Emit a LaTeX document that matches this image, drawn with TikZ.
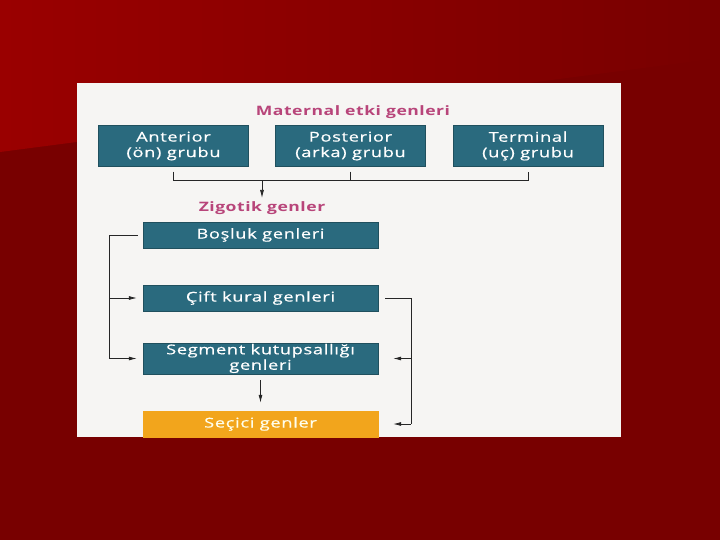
\documentclass[tikz,border=0pt]{standalone}
\usepackage{fontspec}
\usepackage{tikz}
\usepackage{xcolor}
\usetikzlibrary{arrows.meta,calc}
\newfontfamily\diagfont[FakeStretch=1.35,LetterSpace=5,FakeBold=0.6]{Open Sans}
\newfontfamily\headfont[FakeStretch=1.35,LetterSpace=4]{Open Sans}
\definecolor{slidered}{HTML}{780000}
\definecolor{slidelight}{HTML}{9A0000}
\definecolor{paper}{HTML}{F6F5F3}
\definecolor{genteal}{HTML}{2A6A7E}
\definecolor{genpink}{HTML}{B8457A}
\definecolor{genorange}{HTML}{F2A51C}

\begin{document}
\begin{tikzpicture}[x=1bp, y=-1bp,
    genbox/.style={draw=genteal!75!black, fill=genteal, text=white, minimum width=235bp,
        minimum height=26bp, inner sep=0pt, align=center,
        font=\diagfont\fontsize{13.5bp}{15.5bp}\selectfont},
    matbox/.style={genbox, minimum width=150bp, minimum height=41bp},
    head/.style={text=genpink, font=\headfont\bfseries\fontsize{13bp}{15bp}\selectfont},
    link/.style={draw=black!85, line width=0.75bp},
    tip/.style={link, -{Latex[length=8bp,width=4bp]}}]
        \useasboundingbox (0,0) rectangle (720,540);
        % slide and scanned page
        \fill[slidered] (0,0) rectangle (720,540);
        \shade[left color=slidelight, right color=slidered] (0,0) -- (720,0) -- (720,58) -- (0,152) -- cycle;
        \fill[paper] (77,83) rectangle (621,437);
        % maternal effect genes
        \node[head] (mat) at (353,112) {Maternal etki genleri};
        \foreach \x/\name/\txt in {173.5/ant/{Anterior\\(ön) grubu}, 350.5/post/{Posterior\\(arka) grubu}, 528/term/{Terminal\\(uç) grubu}}
            \node[matbox] (\name) at (\x,146) {\txt};
        \node[head] (zig) at (262,208) {Zigotik genler};
        \coordinate (join) at (262,181);
        \draw[link] ([yshift=-5bp]ant.south) -- ++(0,9) -| ([yshift=-5bp]term.south);
        \draw[link] ([yshift=-5bp]post.south) -- ++(0,9);
        \draw[tip] (join) -- (zig.north);
        % zygotic genes
        \node[genbox] (bos) at (260.5,235) {Boşluk genleri};
        \node[genbox] (cift) at (260.5,298) {Çift kural genleri};
        \node[genbox, minimum height=31bp] (seg) at (260.5,358.5) {Segment kutupsallığı\\genleri};
        \node[genbox, fill=genorange, draw=genorange, text=white!92!yellow] (sec) at (260.5,424) {Seçici genler};
        % left loop
        \coordinate (lx) at (109,0);
        \draw[link] ([xshift=-5bp]bos.west) -- (bos.west -| lx) -- (seg.west -| lx);
        \draw[tip] (cift.west -| lx) -- ([xshift=-6bp]cift.west);
        \draw[tip] (seg.west -| lx) -- ([xshift=-6bp]seg.west);
        % right loop
        \coordinate (rx) at (411,0);
        \draw[link] ([xshift=7bp]cift.east) -- (cift.east -| rx) -- (sec.east -| rx);
        \draw[tip] (seg.east -| rx) -- ([xshift=15bp]seg.east);
        \draw[tip] (sec.east -| rx) -- ([xshift=15bp]sec.east);
        \draw[tip] ([yshift=-6bp]seg.south) -- ([yshift=8bp]sec.north);
    \end{tikzpicture}
\end{document}
